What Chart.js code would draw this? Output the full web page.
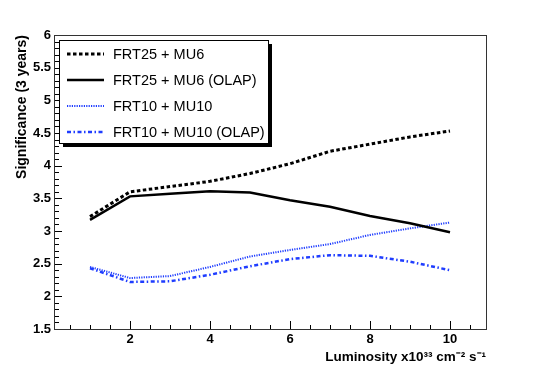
<!DOCTYPE html>
<html>
<head>
<meta charset="utf-8">
<script src="https://cdn.jsdelivr.net/npm/chart.js@4"></script>
<style>
  body { margin: 0; background: #fff; }
  #wrap { width: 540px; height: 366px; }
</style>
</head>
<body>
<div id="wrap"><canvas id="GraphiqueSignificance" width="540" height="366"></canvas></div>
<script>
// donnees
var luminosite = [1, 2, 3, 4, 5, 6, 7, 8, 9, 10];
var frt25mu6 = [3.22, 3.60, 3.68, 3.76, 3.88, 4.03, 4.22, 4.33, 4.44, 4.53];
var frt25mu6Olap = [3.17, 3.53, 3.57, 3.61, 3.59, 3.47, 3.37, 3.23, 3.12, 2.98];
var frt10mu10 = [2.45, 2.28, 2.31, 2.45, 2.61, 2.71, 2.80, 2.94, 3.04, 3.13];
var frt10mu10Olap = [2.43, 2.22, 2.23, 2.33, 2.46, 2.57, 2.63, 2.62, 2.53, 2.40];

var ticksX = [2, 4, 6, 8, 10];
var ticksY = [1.5, 2, 2.5, 3, 3.5, 4, 4.5, 5, 5.5, 6];
var labels = ['FRT25 + MU6', 'FRT25 + MU6 (OLAP)', 'FRT10 + MU10', 'FRT10 + MU10 (OLAP)'];

function points(ys) {
    return luminosite.map(function (x, i) { return { x: x, y: ys[i] }; });
}

var bleu = '#1f3dff';
var police = '"Liberation Sans", Arial, sans-serif';

// cadre + petites graduations vers l'interieur (style ROOT)
var cadre = {
    id: 'cadre',
    afterDraw: function (chart) {
        var ctx = chart.ctx, a = chart.chartArea;
        var sx = chart.scales.x, sy = chart.scales.y;
        ctx.save();
        ctx.strokeStyle = '#000';
        ctx.lineWidth = 1;
        ctx.beginPath();
        for (var v = 0.5; v <= 10.51; v += 0.5) {
            var px = Math.round(sx.getPixelForValue(v)) + 0.5;
            var len = (Math.abs(v / 2 - Math.round(v / 2)) < 0.01) ? 8 : 4;
            ctx.moveTo(px, a.bottom);
            ctx.lineTo(px, a.bottom - len);
        }
        for (var w = 1.5; w <= 6.001; w += 0.1) {
            var py = Math.round(sy.getPixelForValue(w)) + 0.5;
            var major = Math.abs(w * 2 - Math.round(w * 2)) < 0.01;
            ctx.moveTo(a.left, py);
            ctx.lineTo(a.left + (major ? 8 : 5), py);
        }
        ctx.stroke();
        ctx.strokeStyle = '#333';
        ctx.strokeRect(Math.round(a.left) + 0.5, Math.round(a.top) + 0.5,
            Math.round(a.right - a.left), Math.round(a.bottom - a.top));
        ctx.restore();
    }
};

// legende avec ombre
var legende = {
    id: 'legende',
    afterDraw: function (chart) {
        var ctx = chart.ctx;
        var x0 = 59, y0 = 40, w = 209, h = 103;
        ctx.save();
        ctx.fillStyle = '#000';
        ctx.fillRect(x0 + 4, y0 + h, w, 4);
        ctx.fillRect(x0 + w, y0 + 4, 4, h);
        ctx.fillStyle = '#fff';
        ctx.fillRect(x0, y0, w, h);
        ctx.strokeStyle = '#000';
        ctx.lineWidth = 1;
        ctx.strokeRect(x0 + 0.5, y0 + 0.5, w, h);
        ctx.font = '14.5px ' + police;
        ctx.textBaseline = 'middle';
        chart.data.datasets.forEach(function (ds, i) {
            var y = 54 + i * 26;
            ctx.strokeStyle = ds.borderColor;
            ctx.lineWidth = ds.borderWidth;
            ctx.setLineDash(ds.borderDash || []);
            ctx.beginPath();
            ctx.moveTo(67, y);
            ctx.lineTo(104, y);
            ctx.stroke();
            ctx.setLineDash([]);
            ctx.fillStyle = '#000';
            ctx.fillText(ds.label, 113, y + 1);
        });
        ctx.restore();
    }
};

var ctx = document.getElementById('GraphiqueSignificance').getContext('2d');

var graphique = new Chart(ctx, {
    type: 'line',
    data: {
        datasets: [
            { label: labels[0], data: points(frt25mu6), borderColor: '#000', borderWidth: 3, borderDash: [3.5, 2.5] },
            { label: labels[1], data: points(frt25mu6Olap), borderColor: '#000', borderWidth: 2.5 },
            { label: labels[2], data: points(frt10mu10), borderColor: bleu, borderWidth: 2, borderDash: [1.2, 1.2] },
            { label: labels[3], data: points(frt10mu10Olap), borderColor: bleu, borderWidth: 2.5, borderDash: [4, 2.5, 1.5, 2.5] }
        ]
    },
    options: {
        responsive: false,
        animation: false,
        elements: { point: { radius: 0 }, line: { tension: 0, borderCapStyle: 'butt' } },
        layout: { padding: { top: 35, right: 54, left: 0, bottom: 0 } },
        plugins: { legend: { display: false }, tooltip: { enabled: false } },
        scales: {
            x: {
                type: 'linear',
                min: 0.1,
                max: 10.9,
                afterFit: function (s) { s.height = 37; },
                afterBuildTicks: function (s) { s.ticks = ticksX.map(function (v) { return { value: v }; }); },
                grid: { display: false, drawTicks: false, tickLength: 0 },
                border: { display: false },
                ticks: {
                    color: '#000',
                    padding: 3,
                    maxRotation: 0,
                    callback: function (v) { return String(v); },
                    font: { family: police, size: 13, weight: 'bold' }
                },
                title: {
                    display: true,
                    align: 'end',
                    text: 'Luminosity x10³³ cm⁻² s⁻¹',
                    color: '#000',
                    padding: { top: 0, bottom: 1 },
                    font: { family: police, size: 13.5, weight: 'bold' }
                }
            },
            y: {
                min: 1.5,
                max: 6,
                afterFit: function (s) { s.width = 54; },
                afterBuildTicks: function (s) { s.ticks = ticksY.map(function (v) { return { value: v }; }); },
                grid: { display: false, drawTicks: false, tickLength: 0 },
                border: { display: false },
                ticks: {
                    color: '#000',
                    padding: 3,
                    callback: function (v) { return String(v); },
                    font: { family: police, size: 13, weight: 'bold' }
                },
                title: {
                    display: true,
                    align: 'end',
                    text: 'Significance (3 years)',
                    color: '#000',
                    padding: { top: 13.5, bottom: 0 },
                    font: { family: police, size: 14, weight: 'bold' }
                }
            }
        }
    },
    plugins: [cadre, legende]
});
</script>
</body>
</html>
